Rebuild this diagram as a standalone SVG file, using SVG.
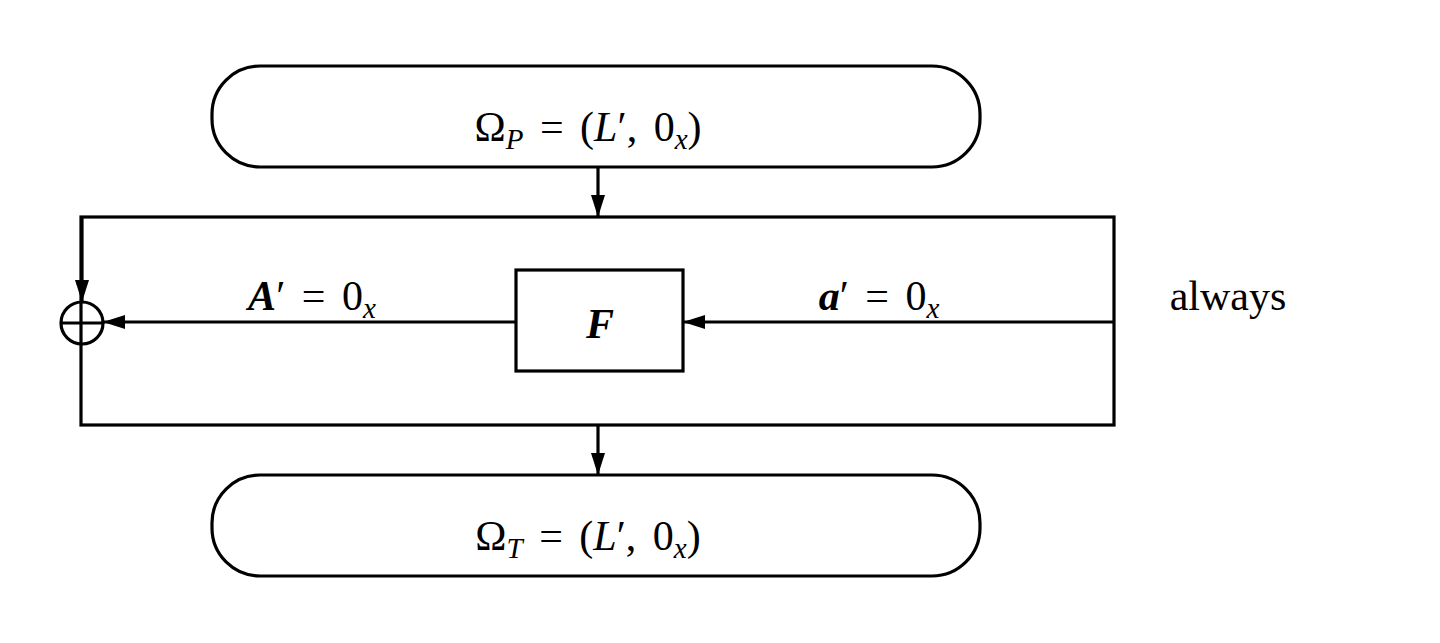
<svg xmlns="http://www.w3.org/2000/svg" width="1440" height="643" viewBox="0 0 1440 643">
<style>
.ln{fill:none;stroke:#000;stroke-width:3.2}
.t{font-family:"Liberation Serif","DejaVu Serif",serif;font-size:42px;fill:#000}
.i{font-style:italic}
.sub{font-size:29px;font-style:italic}
</style>
<defs>
<marker id="ah" viewBox="0 0 22 14" refX="22" refY="7" markerWidth="22" markerHeight="14" markerUnits="userSpaceOnUse" orient="auto">
<path d="M0,0 L22,7 L0,14 Z" fill="#000"/>
</marker>
</defs>
<rect width="1440" height="643" fill="#fff"/>
<g id="omegaP">
<rect class="ln" x="212" y="66" width="768" height="101" rx="48" ry="48"/>
<text class="t" x="588" y="141" text-anchor="middle" word-spacing="6">Ω<tspan class="sub" dy="8">P</tspan><tspan dy="-8"> = (</tspan><tspan class="i">L</tspan>′, 0<tspan class="sub" dy="8">x</tspan><tspan dy="-8">)</tspan></text>
</g>
<g id="frame">
<rect class="ln" x="81" y="217" width="1033" height="208"/>
</g>
<g id="F">
<rect class="ln" x="516" y="270" width="167" height="101"/>
<text class="t" x="600" y="338" text-anchor="middle" font-weight="bold" font-style="italic" font-size="46">F</text>
</g>
<g id="xor">
<circle class="ln" cx="82" cy="323" r="21"/>
<line class="ln" x1="61" y1="323" x2="103" y2="323"/>
</g>
<g id="omegaT">
<rect class="ln" x="212" y="475" width="768" height="101" rx="48" ry="48"/>
<text class="t" x="588" y="550" text-anchor="middle" word-spacing="6">Ω<tspan class="sub" dy="8">T</tspan><tspan dy="-8"> = (</tspan><tspan class="i">L</tspan>′, 0<tspan class="sub" dy="8">x</tspan><tspan dy="-8">)</tspan></text>
</g>
<g id="connectors">
<line class="ln" x1="598" y1="167" x2="598" y2="217" marker-end="url(#ah)"/>
<line class="ln" x1="598" y1="425" x2="598" y2="475" marker-end="url(#ah)"/>
<line class="ln" x1="1114" y1="322" x2="683" y2="322" marker-end="url(#ah)"/>
<line class="ln" x1="516" y1="322" x2="103" y2="322" marker-end="url(#ah)"/>
<line class="ln" x1="82" y1="217" x2="82" y2="302" marker-end="url(#ah)"/>
</g>
<g id="labels">
<text class="t" x="312" y="310" text-anchor="middle" word-spacing="6"><tspan class="i" font-weight="bold">A</tspan>′ = 0<tspan class="sub" dy="8">x</tspan></text>
<text class="t" x="879" y="310" text-anchor="middle" word-spacing="6"><tspan class="i" font-weight="bold">a</tspan>′ = 0<tspan class="sub" dy="8">x</tspan></text>
<text class="t" x="1228" y="310" text-anchor="middle">always</text>
</g>
</svg>
